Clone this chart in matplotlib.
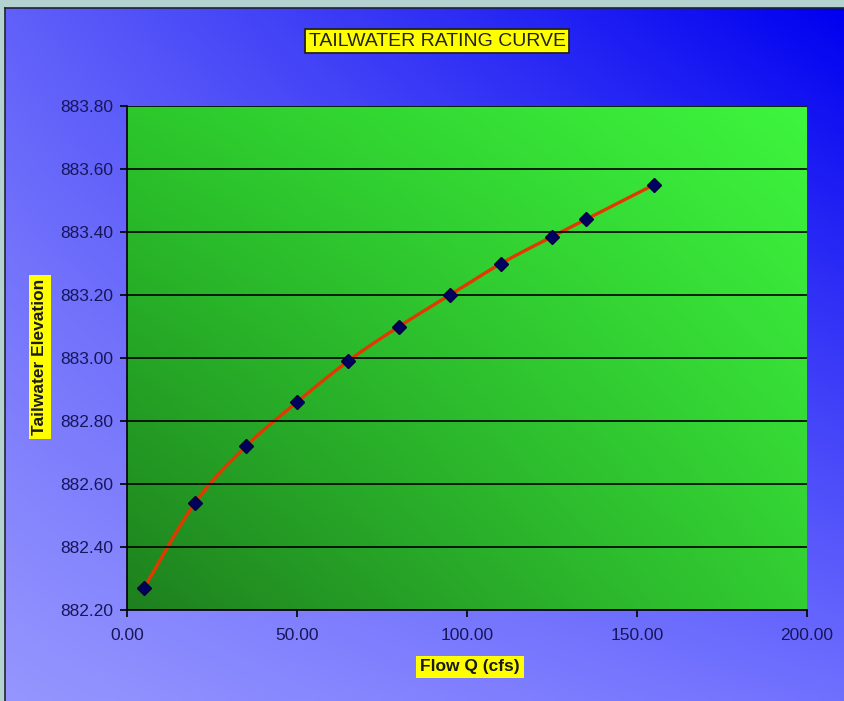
"""Tailwater rating curve: elevation against flow, smoothed through measured points."""

import matplotlib

matplotlib.use("Agg")
import matplotlib.pyplot as plt  # noqa: E402
import numpy as np  # noqa: E402

FLOW_CFS = [5, 20, 35, 50, 65, 80, 95, 110, 125, 135, 155]
ELEVATION = [882.27, 882.54, 882.72, 882.86, 882.99, 883.10,
             883.20, 883.30, 883.385, 883.44, 883.55]
X_TICKS = [0, 50, 100, 150, 200]
Y_TICKS = [882.20, 882.40, 882.60, 882.80, 883.00, 883.20, 883.40, 883.60, 883.80]

TITLE = "TAILWATER RATING CURVE"
X_LABEL = "Flow Q (cfs)"
Y_LABEL = "Tailwater Elevation"

TEXT_COLOR = "#16165a"
plt.rcParams["font.family"] = ["Liberation Sans", "DejaVu Sans"]


def bilinear(tl, tr, bl, br, ny=200, nx=200):
    """Image array blending four corner colours (rows run top to bottom)."""
    tl, tr, bl, br = (np.array(c, dtype=float) / 255.0 for c in (tl, tr, bl, br))
    v = np.linspace(0, 1, ny)[:, None, None]
    u = np.linspace(0, 1, nx)[None, :, None]
    top = tl * (1 - u) + tr * u
    bottom = bl * (1 - u) + br * u
    return top * (1 - v) + bottom * v


def smooth_curve(xs, ys, steps=30):
    """Catmull-Rom spline through the points, like a spreadsheet smoothed line."""
    pts = np.column_stack([xs, ys]).astype(float)
    pts = np.vstack([2 * pts[0] - pts[1], pts, 2 * pts[-1] - pts[-2]])
    out = []
    t = np.linspace(0, 1, steps)[:, None]
    for i in range(1, len(pts) - 2):
        p0, p1, p2, p3 = pts[i - 1], pts[i], pts[i + 1], pts[i + 2]
        seg = 0.5 * ((2 * p1) + (-p0 + p2) * t
                     + (2 * p0 - 5 * p1 + 4 * p2 - p3) * t ** 2
                     + (-p0 + 3 * p1 - 3 * p2 + p3) * t ** 3)
        out.append(seg if i == 1 else seg[1:])
    curve = np.vstack(out)
    return curve[:, 0], curve[:, 1]


fig = plt.figure(figsize=(8.44, 7.01), dpi=100)
fig.patch.set_facecolor("#b4d2d0")

# chart background with blue gradient, framed by a thin dark border
bg = fig.add_axes([5 / 844, 0, 839 / 844, 693 / 701])
bg.imshow(bilinear((96, 96, 250), (0, 0, 240), (150, 150, 255), (112, 112, 255)),
          extent=[0, 1, 0, 1], aspect="auto", interpolation="bilinear")
bg.set_xlim(0, 1)
bg.set_ylim(0, 1)
for side in ("right", "bottom"):
    bg.spines[side].set_visible(False)
for side in ("left", "top"):
    bg.spines[side].set_color("#222233")
    bg.spines[side].set_linewidth(1.2)
bg.set_xticks([])
bg.set_yticks([])

ax = fig.add_axes([127 / 844, 91 / 701, 680 / 844, 504 / 701])
ax.set_facecolor("none")
ax.imshow(bilinear((44, 200, 44), (62, 245, 62), (30, 128, 30), (50, 205, 50)),
          extent=[0, 1, 0, 1], transform=ax.transAxes, aspect="auto",
          interpolation="bilinear", zorder=0)

ax.set_xlim(X_TICKS[0], X_TICKS[-1])
ax.set_ylim(Y_TICKS[0], Y_TICKS[-1])
ax.set_xticks(X_TICKS)
ax.set_yticks(Y_TICKS)
ax.set_xticklabels([f"{v:.2f}" for v in X_TICKS])
ax.set_yticklabels([f"{v:.2f}" for v in Y_TICKS])
ax.tick_params(direction="out", length=5, width=1.2, colors="black",
               labelcolor=TEXT_COLOR, labelsize=12.5, pad=5)
ax.tick_params(axis="x", pad=8)
ax.grid(axis="y", color="black", linewidth=1.2, zorder=1)
ax.set_axisbelow(False)
for side in ("top", "right"):
    ax.spines[side].set_visible(False)
for side in ("left", "bottom"):
    ax.spines[side].set_linewidth(1.2)
    ax.spines[side].set_zorder(3)

cx, cy = smooth_curve(FLOW_CFS, ELEVATION)
ax.plot(cx, cy, color="#e03a00", linewidth=2.4, zorder=2, clip_on=False)
ax.plot(FLOW_CFS, ELEVATION, linestyle="none", marker="D", markersize=7,
        color="#00005e", markeredgecolor="#00003a", zorder=4, clip_on=False)

fig.text(437 / 844, 1 - 41 / 701, TITLE, ha="center", va="center",
         fontsize=14, color="#222222",
         bbox=dict(boxstyle="square,pad=0.2", facecolor="#ffff00",
                   edgecolor="#222222", linewidth=1.3))
fig.text(470 / 844, 1 - 667 / 701, X_LABEL, ha="center", va="center",
         fontsize=12.5, fontweight="bold", color="#1a1a1a",
         bbox=dict(boxstyle="square,pad=0.22", facecolor="#ffff00",
                   edgecolor="none"))
fig.text(40 / 844, 1 - 357 / 701, Y_LABEL, ha="center", va="center",
         rotation=90, fontsize=12.5, fontweight="bold", color="#1a1a1a",
         bbox=dict(boxstyle="square,pad=0.22", facecolor="#ffff00",
                   edgecolor="none"))

fig.savefig("out.png", dpi=100)
